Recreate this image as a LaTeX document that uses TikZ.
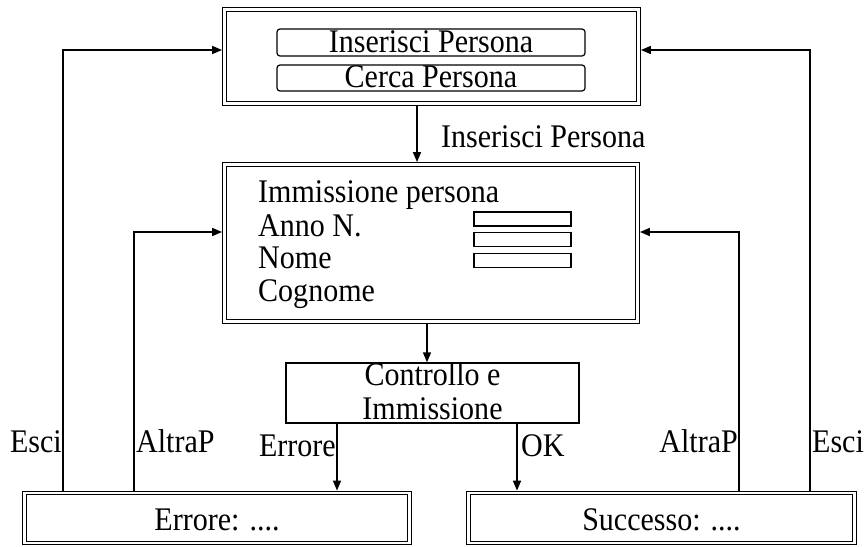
\documentclass[tikz,border=0pt]{standalone}
\usepackage{fontspec}
\setmainfont[FakeStretch=0.91]{Liberation Serif}
\usetikzlibrary{arrows.meta}
\begin{document}
\begin{tikzpicture}[x=1pt,y=-1pt,
  every node/.style={font=\fontsize{33}{36}\selectfont, inner sep=0pt},
  dbox/.style={draw, line width=1.1pt, double, double distance=2.6pt, outer sep=2.4pt, anchor=center},
  sbox/.style={draw, line width=1.3pt, anchor=center},
  btn/.style={draw, line width=1.2pt, rounded corners=3pt, anchor=center},
  field/.style={draw, line width=1.2pt, minimum width=97pt, minimum height=14pt},
  arr/.style={line width=1.6pt, -{Triangle[length=10pt,width=8pt]}},
  lbl/.style={anchor=base west}
]
\useasboundingbox (0,0) rectangle (867,546);

% boxes
\node[dbox, minimum width=414pt, minimum height=94pt] (top) at (431.5,56.5) {};
\node[btn, minimum width=308pt, minimum height=27pt] (ins) at (431,42.5) {};
\node[anchor=base] (inst) at (431,52) {Inserisci Persona};
\node[btn, minimum width=308pt, minimum height=26pt] (cer) at (431,78) {};
\node[anchor=base] (cert) at (431,87.5) {Cerca Persona};

\node[dbox, minimum width=413pt, minimum height=157pt] (mid) at (431,243) {};
\node[lbl] (t1) at (258,202) {Immissione persona};
\node[lbl] (t2) at (258,236) {Anno N.};
\node[lbl] (t3) at (258,268) {Nome};
\node[lbl] (t4) at (258,301) {Cognome};
\node[field] (f1) at (522.5,219) {};
\node[field] (f2) at (522.5,239.5) {};
\node[field] (f3) at (522.5,260.5) {};

\node[sbox, minimum width=293pt, minimum height=60pt] (ctl) at (432.5,393) {};
\node[anchor=base] (c1) at (432.5,385) {Controllo e};
\node[anchor=base] (c2) at (432.5,419) {Immissione};

\node[dbox, minimum width=385pt, minimum height=50pt] (err) at (217,518) {};
\node[anchor=base] (errt) at (217,530) {Errore: ....};
\node[dbox, minimum width=386pt, minimum height=50pt] (suc) at (661.5,518) {};
\node[anchor=base] (suct) at (661.5,530) {Successo: ....};

% route coordinates
\coordinate (a1) at (417,0);
\coordinate (a2) at (427,0);
\coordinate (a3) at (337,0);
\coordinate (a4) at (517,0);
\coordinate (escL) at (63,50);
\coordinate (altL) at (134,232);
\coordinate (altR) at (739,232);
\coordinate (escR) at (810,50);

% connectors
\draw[arr] (a1 |- top.south) -- (a1 |- mid.north);
\draw[arr] (a2 |- mid.south) -- (a2 |- ctl.north);
\draw[arr] (a3 |- ctl.south) -- (a3 |- err.north);
\draw[arr] (a4 |- ctl.south) -- (a4 |- suc.north);
\draw[arr] (escL |- err.north) -- (escL) -- (escL -| top.west);
\draw[arr] (altL |- err.north) -- (altL) -- (altL -| mid.west);
\draw[arr] (altR |- suc.north) -- (altR) -- (altR -| mid.east);
\draw[arr] (escR |- suc.north) -- (escR) -- (escR -| top.east);

% labels
\node[lbl] (l0) at (441,147) {Inserisci Persona};
\node[anchor=base east] (l1) at (62,452) {Esci};
\node[lbl] (l2) at (136,452) {AltraP};
\node[anchor=base east] (l3) at (336,456) {Errore};
\node[lbl] (l4) at (521,456) {OK};
\node[anchor=base east] (l5) at (738,452) {AltraP};
\node[lbl] (l6) at (812,452) {Esci};
\end{tikzpicture}
\end{document}
